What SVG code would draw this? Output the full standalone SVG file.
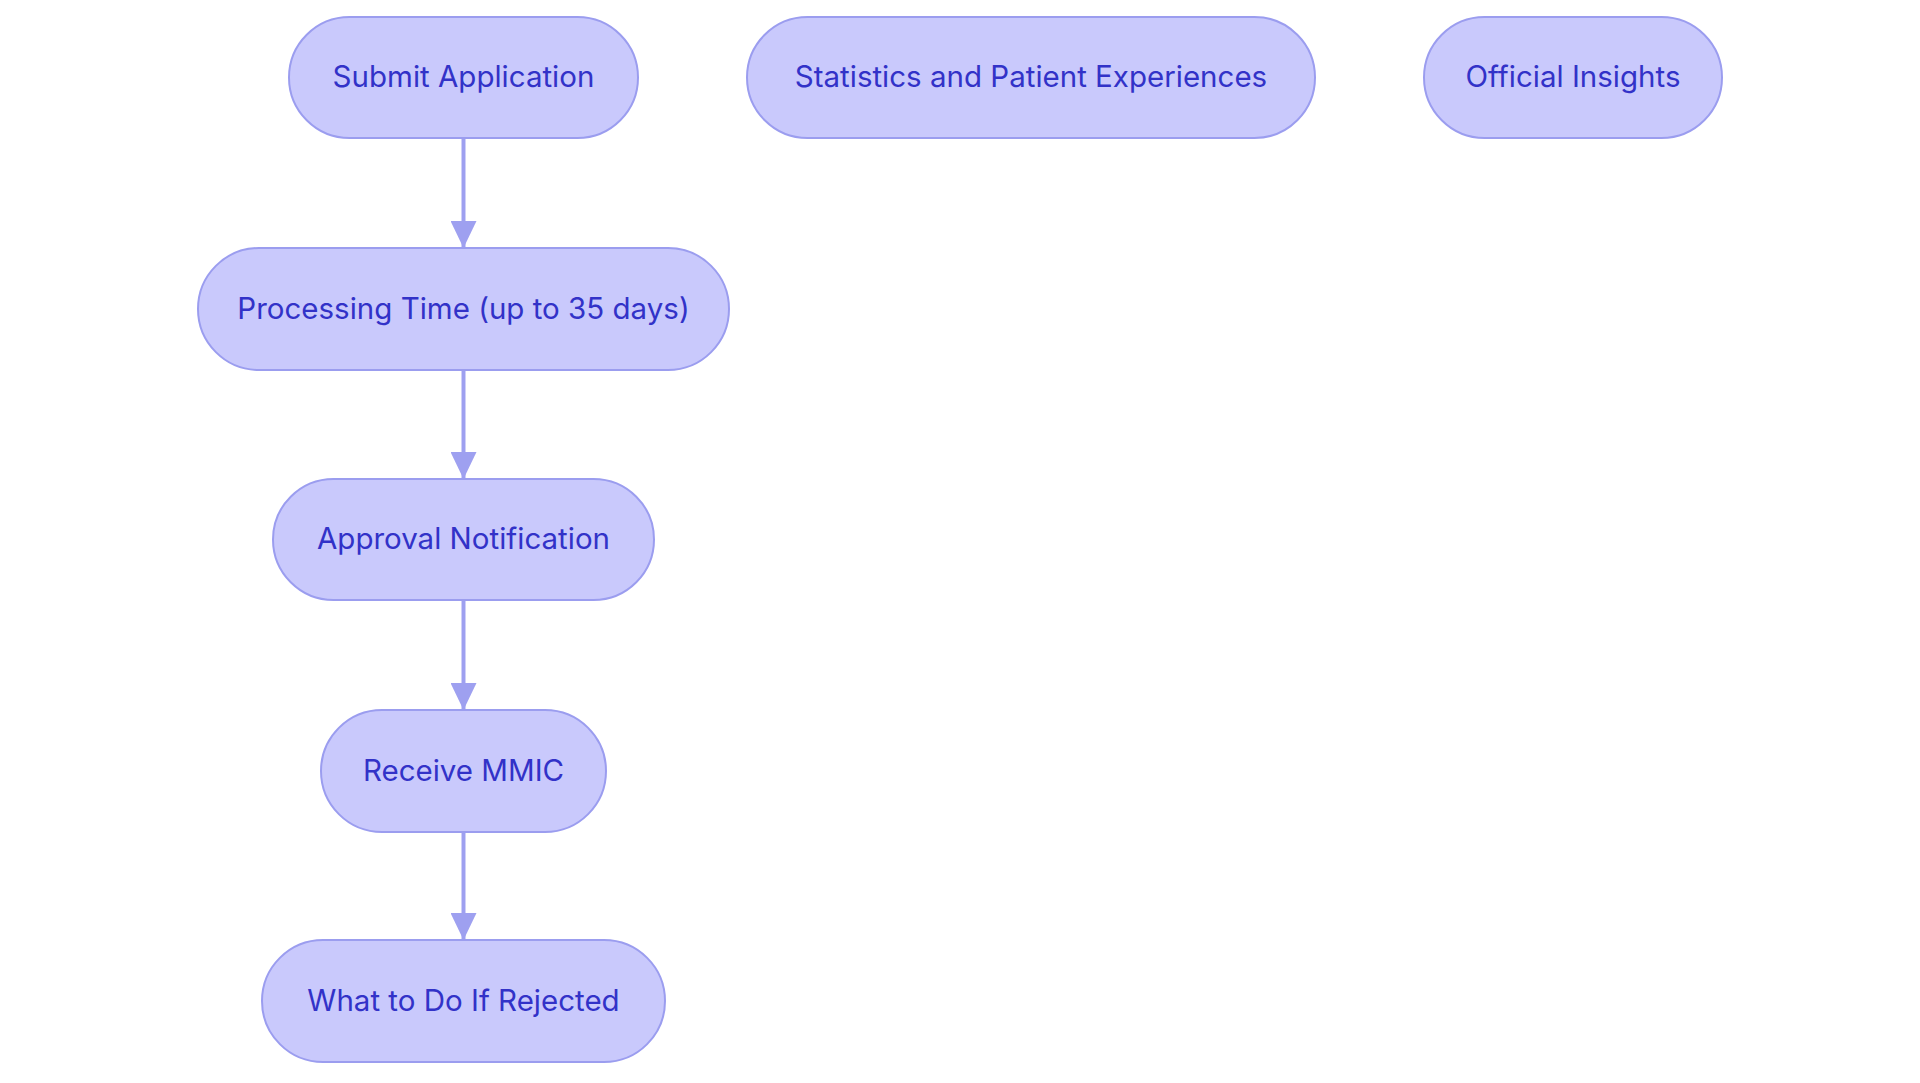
<svg xmlns="http://www.w3.org/2000/svg" width="1920" height="1083" viewBox="0 0 1920 1083">
<style>
.node rect{fill:#C9C9FC;stroke:#9B9DEF;stroke-width:2}
.node text{font-family:Inter,"Noto Sans","Liberation Sans",sans-serif;font-size:29.5px;fill:#3232C8;text-anchor:middle;dominant-baseline:central}
.edge{stroke:#9EA0F0;stroke-width:4;fill:none}
</style>
<defs>
<marker id="arr" viewBox="0 0 27 26" refX="27" refY="13" markerWidth="27" markerHeight="26" markerUnits="userSpaceOnUse" orient="auto">
<path d="M0,0 L27,13 L0,26 Z" fill="#9EA0F0"/>
</marker>
</defs>
<rect width="1920" height="1083" fill="#FFFFFF"/>
<g id="connectors">
<line class="edge" x1="463.5" y1="139" x2="463.5" y2="248" marker-end="url(#arr)"/>
<line class="edge" x1="463.5" y1="370" x2="463.5" y2="479" marker-end="url(#arr)"/>
<line class="edge" x1="463.5" y1="600" x2="463.5" y2="710" marker-end="url(#arr)"/>
<line class="edge" x1="463.5" y1="832" x2="463.5" y2="940" marker-end="url(#arr)"/>
</g>
<g id="submit" class="node"><rect x="289" y="17" width="349" height="121" rx="60.5"/><text x="463.5" y="76">Submit Application</text></g>
<g id="stats" class="node"><rect x="747" y="17" width="568" height="121" rx="60.5"/><text x="1031" y="76">Statistics and Patient Experiences</text></g>
<g id="official" class="node"><rect x="1424" y="17" width="298" height="121" rx="60.5"/><text x="1573" y="76">Official Insights</text></g>
<g id="processing" class="node"><rect x="198" y="248" width="531" height="122" rx="61"/><text x="463.5" y="307.5">Processing Time (up to 35 days)</text></g>
<g id="approval" class="node"><rect x="273" y="479" width="381" height="121" rx="60.5"/><text x="463.5" y="538">Approval Notification</text></g>
<g id="receive" class="node"><rect x="321" y="710" width="285" height="122" rx="61"/><text x="463.5" y="769.5">Receive MMIC</text></g>
<g id="rejected" class="node"><rect x="262" y="940" width="403" height="122" rx="61"/><text x="463.5" y="999.5">What to Do If Rejected</text></g>
</svg>
